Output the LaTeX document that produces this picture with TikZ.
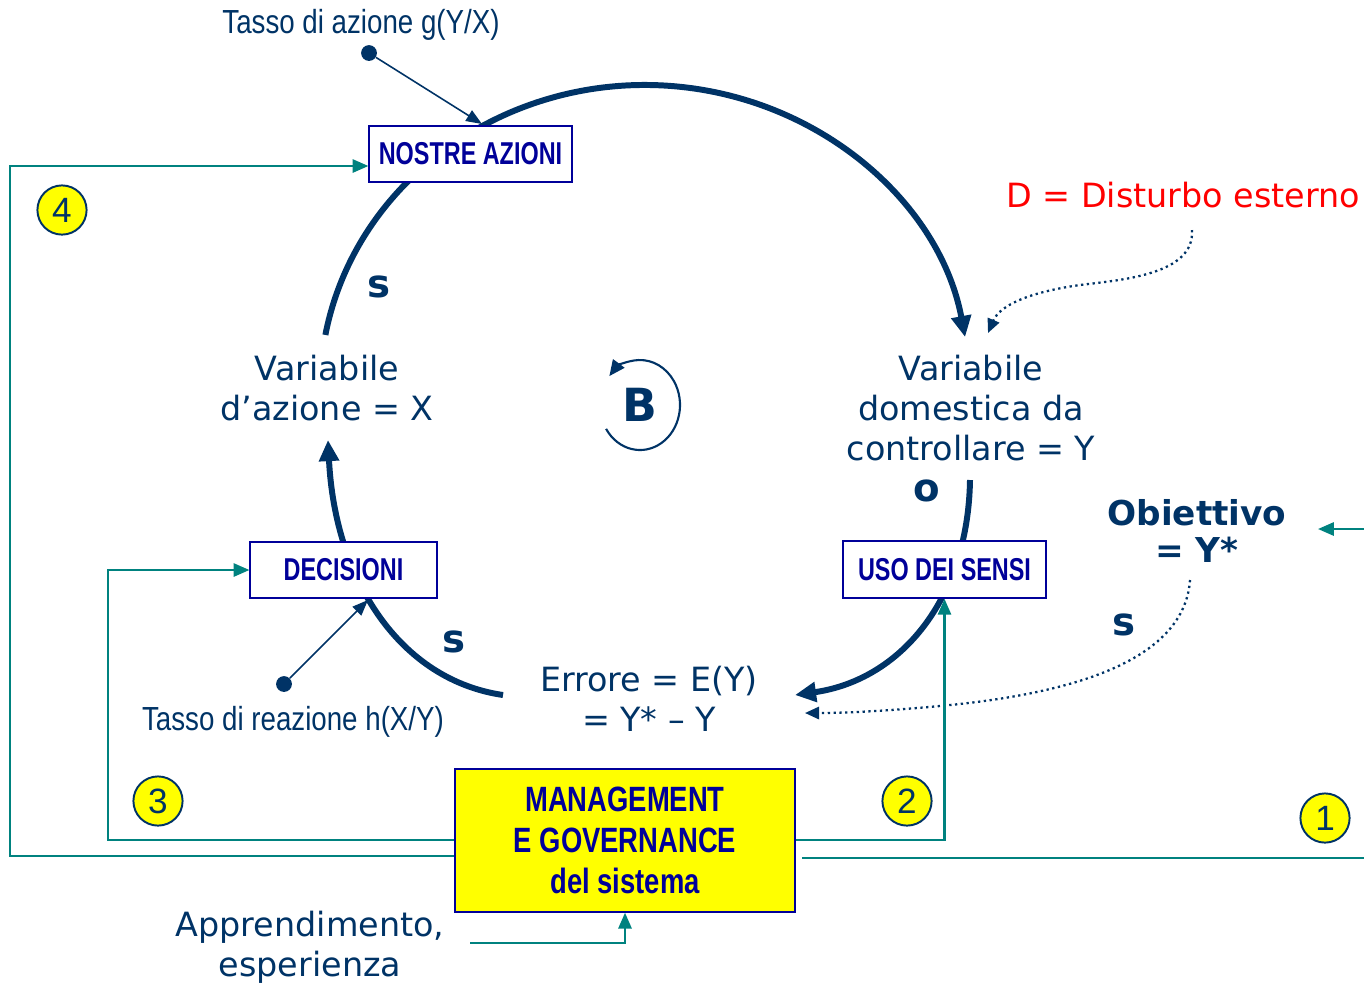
\documentclass[tikz,border=0pt]{standalone}
\usepackage{fontspec}
\setmainfont{DejaVu Sans}
\newfontfamily\narb[FakeStretch=0.74]{Liberation Sans}
\newfontfamily\narm[FakeStretch=0.78]{Liberation Sans}
\newfontfamily\narr[FakeStretch=0.83]{Liberation Sans}
\newfontfamily\ari{Liberation Sans}
\usetikzlibrary{arrows.meta}
\definecolor{navy}{HTML}{003366}
\definecolor{boxblue}{HTML}{000099}
\definecolor{tealc}{HTML}{00827F}
\definecolor{yel}{HTML}{FFFF00}
\begin{document}
\begin{tikzpicture}[x=0.02cm,y=-0.02cm,
  lbl/.style={text=navy,align=center,font=\fontsize{19}{22.7}\selectfont,inner sep=0pt},
  blbl/.style={text=navy,align=center,font=\fontsize{19.5}{21}\selectfont\bfseries,inner sep=0pt},
  sign/.style={text=navy,font=\fontsize{22}{24}\selectfont\bfseries,inner sep=0pt},
  boxn/.style={draw=boxblue,line width=1.1pt,fill=white,text=boxblue,font=\narb\fontsize{18}{20}\selectfont\bfseries,inner sep=0pt},
  mgmt/.style={draw=boxblue,line width=1.1pt,fill=yel,text=boxblue,align=center,font=\narm\fontsize{20}{23.5}\selectfont\bfseries,inner sep=0pt,minimum width=193.9pt,minimum height=81.1pt},
  num/.style={circle,draw=navy,line width=1.1pt,fill=yel,text=navy,minimum size=28pt,inner sep=0pt,font=\ari\fontsize{20}{22}\selectfont},
  thinlbl/.style={text=navy,font=\narr\fontsize{19}{21}\selectfont,inner sep=0pt},
  loop/.style={draw=navy,line width=3.4pt},
  bigtip/.style={-{Triangle[length=12pt,width=11pt]}},
  tl/.style={draw=tealc,line width=1.3pt},
  tltip/.style={-{Triangle[length=9pt,width=7.5pt]}},
  thinarr/.style={draw=navy,line width=0.9pt,-{Triangle[length=9pt,width=7pt]}},
  dotn/.style={circle,fill=navy,minimum size=9pt,inner sep=0pt},
  dots/.style={draw=navy,line width=1.3pt,dotted,-{Triangle[length=8pt,width=7pt]}}]
\useasboundingbox (0,0) rectangle (1364,985);

% main loop arcs
\draw[loop,bigtip] (645,390) ++(-169.6:325 and 305) arc[start angle=-169.6,end angle=-10,x radius=325,y radius=305];
\draw[loop,bigtip] (970,480) .. controls (968,600) and (900,680) .. (795,695);
\draw[loop,bigtip] (503,695) .. controls (400,680) and (335,580) .. (328,440);

% boxes
\node[boxn,minimum width=115.1pt,minimum height=31.7pt] (N) at (470.5,154) {NOSTRE AZIONI};
\node[boxn,minimum width=106pt,minimum height=31.7pt] (Dc) at (343.5,570) {DECISIONI};
\node[boxn,minimum width=115.1pt,minimum height=32.3pt] (U) at (944.5,569.5) {USO DEI SENSI};
\node[mgmt] (M) at (625,840.5) {MANAGEMENT\\E GOVERNANCE\\del sistema};

% labels
\node[lbl] (X) at (327,388) {Variabile\\d’azione = X};
\node[lbl] (Y) at (971,408) {Variabile\\domestica da\\controllare = Y};
\node[lbl] (E) at (649,699) {Errore = E(Y)\\ = Y* – Y};
\node[blbl] (O) at (1197,531) {Obiettivo\\= Y*};
\node[lbl,text=red] (D) at (1183,195) {D = Disturbo esterno};
\node[lbl] (A) at (310,947) {Apprendimento,\\esperienza};
\node[thinlbl] (ta) at (361,25) {Tasso di azione g(Y/X)};
\node[thinlbl] (tr) at (293,722) {Tasso di reazione h(X/Y)};

\node[sign] (s1) at (379,287) {s};
\node[sign] (s2) at (454,642) {s};
\node[sign] (s3) at (1124,625) {s};
\node[sign] (o1) at (927,491) {o};
\node[text=navy,font=\fontsize{26}{28}\selectfont\bfseries,inner sep=0pt] (B) at (640,405) {B};
\draw[draw=navy,line width=1.2pt,-{Triangle[length=9pt,width=8pt]}] (640,405) ++(148:40 and 45) arc[start angle=148,end angle=-140,x radius=40,y radius=45];

% numbers
\node[num] (c4) at (62,210) {4};
\node[num] (c3) at (158,801) {3};
\node[num] (c2) at (907,801) {2};
\node[num] (c1) at (1325,818) {1};

% thin arrows with dots
\node[dotn] (d1) at (369,53) {};
\coordinate (n1) at (482,124);
\draw[thinarr] (d1) -- (n1);
\node[dotn] (d2) at (284,684) {};
\coordinate (n2) at (368,600);
\draw[thinarr] (d2) -- (n2);

% dotted arrows
\coordinate (dd) at (1192,230);
\coordinate (dy) at (988,333);
\draw[dots] (dd) .. controls (1195,275) and (1120,280) .. (1080,285) .. controls (1030,292) and (1000,305) .. (dy);
\coordinate (oo) at (1190,580);
\coordinate (ee) at (805,713);
\draw[dots] (oo) .. controls (1185,650) and (1100,690) .. (950,705) .. controls (900,710) and (850,713) .. (ee);

% teal feedback loops
\draw[tl,tltip] (M.west |- 0,856) -| (10,166) -- (N.west |- 0,166);
\draw[tl,tltip] (M.west |- 0,840) -| (108,570) -- (Dc.west);
\draw[tl,tltip] (M.east |- 0,840) -| (U.south);
\coordinate (r1a) at (802,858);
\coordinate (r1b) at (1364,858);
\draw[tl] (r1a) -- (r1b);
\coordinate (r2a) at (1364,529);
\coordinate (r2b) at (1318,529);
\draw[tl,tltip] (r2a) -- (r2b);
\coordinate (ap) at (470,943);
\draw[tl,tltip] (ap) -| (M.south);
\end{tikzpicture}
\end{document}
